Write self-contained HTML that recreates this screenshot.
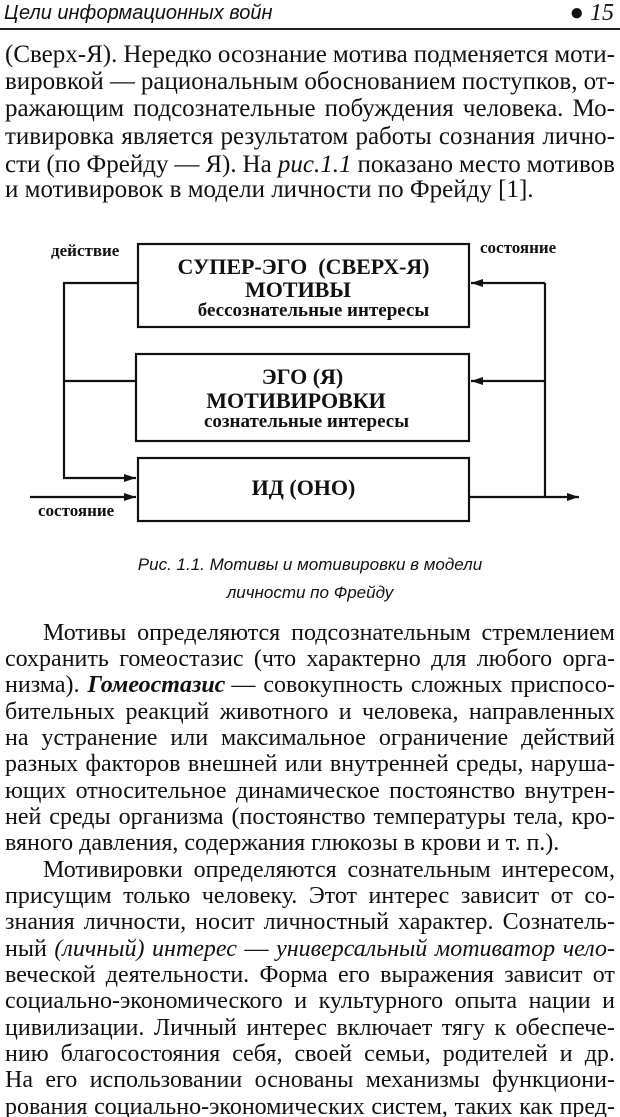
<!DOCTYPE html>
<html><head><meta charset="utf-8"><style>
body{margin:0;background:#fff;}
#p{position:relative;width:620px;height:1117px;overflow:hidden;background:#fff;color:#111;}
.l{position:absolute;left:5px;width:610px;display:flex;justify-content:space-between;white-space:nowrap;font-family:"Liberation Serif",serif;}
.a{font-size:25px;height:28px;line-height:28px;}
.b{font-size:24px;height:26px;line-height:26px;}
.ind{padding-left:38px;box-sizing:border-box;}
.t{position:absolute;font-family:"Liberation Serif",serif;font-weight:bold;text-align:center;white-space:nowrap;}
.lab{position:absolute;font-family:"Liberation Serif",serif;font-weight:bold;font-size:17px;}
.cap{position:absolute;left:0;width:620px;text-align:center;font-family:"Liberation Sans",sans-serif;font-style:italic;font-size:17px;}
</style></head><body><div id="p">
<div style="position:absolute;left:4px;top:2px;font-family:'Liberation Sans',sans-serif;font-style:italic;font-size:20px;">Цели информационных войн</div>
<div style="position:absolute;right:6px;top:0px;font-family:'Liberation Serif',serif;font-style:italic;font-size:24px;">● 15</div>
<div style="position:absolute;left:0;top:28px;width:620px;height:2px;background:#222"></div>

<div class="l a" style="top:41px"><span>(Сверх-Я).</span><span>Нередко</span><span>осознание</span><span>мотива</span><span>подменяется</span><span>моти-</span></div>
<div class="l a" style="top:68px"><span>вировкой</span><span>—</span><span>рациональным</span><span>обоснованием</span><span>поступков,</span><span>от-</span></div>
<div class="l a" style="top:95px"><span>ражающим</span><span>подсознательные</span><span>побуждения</span><span>человека.</span><span>Мо-</span></div>
<div class="l a" style="top:123px"><span>тивировка</span><span>является</span><span>результатом</span><span>работы</span><span>сознания</span><span>лично-</span></div>
<div class="l a" style="top:151px"><span>сти</span><span>(по</span><span>Фрейду</span><span>—</span><span>Я).</span><span>На <i>рис.1.1</i></span><span>показано</span><span>место</span><span>мотивов</span></div>
<div class="l a" style="top:176px;justify-content:flex-start"><span>и мотивировок в модели личности по Фрейду [1].</span></div>

<svg style="position:absolute;left:0;top:0" width="620" height="540">
<defs><marker id="ar" markerWidth="12" markerHeight="8" refX="12" refY="4" orient="auto" markerUnits="userSpaceOnUse"><path d="M0,0 L12,4 L0,8 Z" fill="#111"/></marker></defs>
<g fill="none" stroke="#111" stroke-width="2.2">
<rect x="138" y="244" width="331" height="83"/>
<rect x="136" y="354" width="333" height="87"/>
<rect x="138" y="458" width="331" height="63"/>
<polyline points="138,283 64,283 64,478 136,478" marker-end="url(#ar)"/>
<line x1="64" y1="381" x2="136" y2="381"/>
<line x1="30" y1="497" x2="136" y2="497" marker-end="url(#ar)"/>
<line x1="469" y1="497" x2="579" y2="497" marker-end="url(#ar)"/>
<line x1="545" y1="497" x2="545" y2="283"/>
<line x1="545" y1="283" x2="471" y2="283" marker-end="url(#ar)"/>
<line x1="545" y1="381" x2="471" y2="381" marker-end="url(#ar)"/>
</g></svg>
<div class="lab" style="left:51px;top:241px">действие</div>
<div class="lab" style="left:480px;top:238px">состояние</div>
<div class="lab" style="left:38px;top:501px">состояние</div>
<div class="t" style="left:138px;width:331px;top:254px;font-size:22px">СУПЕР-ЭГО&nbsp; (СВЕРХ-Я)</div>
<div class="t" style="left:138px;width:320px;top:277px;font-size:22px">МОТИВЫ</div>
<div class="t" style="left:148px;width:331px;top:300px;font-size:19px">бессознательные интересы</div>
<div class="t" style="left:136px;width:333px;top:364px;font-size:22px">ЭГО (Я)</div>
<div class="t" style="left:136px;width:320px;top:388px;font-size:22px">МОТИВИРОВКИ</div>
<div class="t" style="left:140px;width:333px;top:411px;font-size:19px">сознательные интересы</div>
<div class="t" style="left:138px;width:331px;top:475px;font-size:22px">ИД (ОНО)</div>

<div class="cap" style="top:555px">Рис. 1.1. Мотивы и мотивировки в модели</div>
<div class="cap" style="top:583px">личности по Фрейду</div>

<div class="l b ind" style="top:620px"><span>Мотивы</span><span>определяются</span><span>подсознательным</span><span>стремлением</span></div>
<div class="l b" style="top:646px"><span>сохранить</span><span>гомеостазис</span><span>(что</span><span>характерно</span><span>для</span><span>любого</span><span>орга-</span></div>
<div class="l b" style="top:672px"><span>низма).</span><span><b><i>Гомеостазис</i></b> —</span><span>совокупность</span><span>сложных</span><span>приспосо-</span></div>
<div class="l b" style="top:699px"><span>бительных</span><span>реакций</span><span>животного</span><span>и</span><span>человека,</span><span>направленных</span></div>
<div class="l b" style="top:725px"><span>на</span><span>устранение</span><span>или</span><span>максимальное</span><span>ограничение</span><span>действий</span></div>
<div class="l b" style="top:751px"><span>разных</span><span>факторов</span><span>внешней</span><span>или</span><span>внутренней</span><span>среды,</span><span>наруша-</span></div>
<div class="l b" style="top:778px"><span>ющих</span><span>относительное</span><span>динамическое</span><span>постоянство</span><span>внутрен-</span></div>
<div class="l b" style="top:804px"><span>ней</span><span>среды</span><span>организма</span><span>(постоянство</span><span>температуры</span><span>тела,</span><span>кро-</span></div>
<div class="l b" style="top:830px;justify-content:flex-start"><span>вяного давления, содержания глюкозы в крови и т. п.).</span></div>
<div class="l b ind" style="top:857px"><span>Мотивировки</span><span>определяются</span><span>сознательным</span><span>интересом,</span></div>
<div class="l b" style="top:883px"><span>присущим</span><span>только</span><span>человеку.</span><span>Этот</span><span>интерес</span><span>зависит</span><span>от</span><span>со-</span></div>
<div class="l b" style="top:909px"><span>знания</span><span>личности,</span><span>носит</span><span>личностный</span><span>характер.</span><span>Сознатель-</span></div>
<div class="l b" style="top:936px"><span>ный</span><span><i>(личный)</i></span><span><i>интерес</i></span><span>—</span><span><i>универсальный</i></span><span><i>мотиватор</i></span><span><i>чело-</i></span></div>
<div class="l b" style="top:962px"><span>веческой</span><span>деятельности.</span><span>Форма</span><span>его</span><span>выражения</span><span>зависит</span><span>от</span></div>
<div class="l b" style="top:988px"><span>социально-экономического</span><span>и</span><span>культурного</span><span>опыта</span><span>нации</span><span>и</span></div>
<div class="l b" style="top:1015px"><span>цивилизации.</span><span>Личный</span><span>интерес</span><span>включает</span><span>тягу</span><span>к</span><span>обеспече-</span></div>
<div class="l b" style="top:1041px"><span>нию</span><span>благосостояния</span><span>себя,</span><span>своей</span><span>семьи,</span><span>родителей</span><span>и</span><span>др.</span></div>
<div class="l b" style="top:1067px"><span>На</span><span>его</span><span>использовании</span><span>основаны</span><span>механизмы</span><span>функциони-</span></div>
<div class="l b" style="top:1094px"><span>рования</span><span>социально-экономических</span><span>систем,</span><span>таких</span><span>как</span><span>пред-</span></div>
</div></body></html>
